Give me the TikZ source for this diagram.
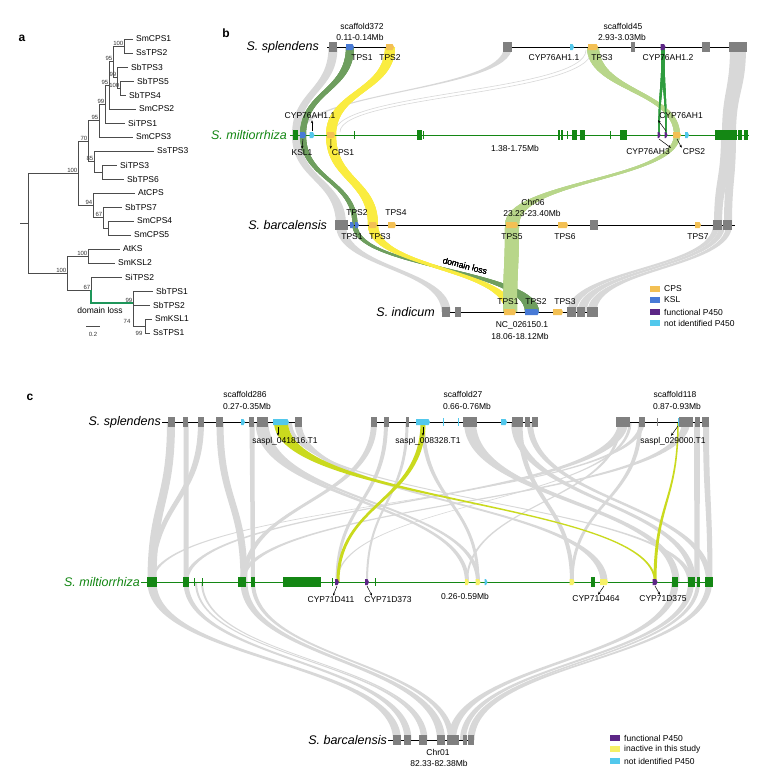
\documentclass[tikz,border=0pt]{standalone}
\usepackage{fontspec}
\setmainfont{Liberation Sans}
\usetikzlibrary{arrows.meta}
\definecolor{gbox}{RGB}{128,128,128}
\definecolor{gband}{RGB}{216,216,216}
\definecolor{smgreen}{RGB}{20,135,20}
\definecolor{cps}{RGB}{243,192,84}
\definecolor{ksl}{RGB}{72,122,214}
\definecolor{fp}{RGB}{92,38,134}
\definecolor{nip}{RGB}{82,200,236}
\definecolor{inact}{RGB}{246,240,102}
\definecolor{yband}{RGB}{250,236,64}
\definecolor{dgband}{RGB}{110,158,94}
\definecolor{lgband}{RGB}{184,214,138}
\definecolor{vband}{RGB}{46,156,62}
\definecolor{ygband}{RGB}{202,218,30}
\definecolor{dlgreen}{RGB}{30,150,90}
% ribbon between two rows: colour, x1, y1, w1, x2, y2, w2
\newcommand{\band}[7]{\fill[#1] ({#2-#4/2},#3) .. controls ({#2-#4/2},{(#3+#6)/2}) and ({#5-#7/2},{(#3+#6)/2}) .. ({#5-#7/2},#6) -- ({#5+#7/2},#6) .. controls ({#5+#7/2},{(#3+#6)/2}) and ({#2+#4/2},{(#3+#6)/2}) .. ({#2+#4/2},#3) -- cycle;}
\newcommand{\blocks}[3]{\foreach \a/\b in {#2}{\fill[#1] (\a,{#3-5}) rectangle (\b,{#3+5});}}
\newcommand{\ticks}[3]{\foreach \a in {#2}{\draw[#1,line width=.6pt] (\a,{#3-4}) -- (\a,{#3+4});}}
\newcommand{\gene}[4]{\fill[#1] ({#2-#3},{#4-3}) -- ({#2+#3-1.5},{#4-3}) -- ({#2+#3},#4) -- ({#2+#3-1.5},{#4+3}) -- ({#2-#3},{#4+3}) -- cycle;}

\begin{document}
\begin{tikzpicture}[x=1pt,y=-1pt,
  sp/.style={font=\itshape\fontsize{12.5}{14}\selectfont,inner sep=1pt},
  lab/.style={font=\fontsize{8.5}{10}\selectfont,inner sep=1pt},
  leaf/.style={font=\fontsize{8.5}{10}\selectfont,inner sep=1pt},
  boot/.style={font=\fontsize{6}{7}\selectfont,inner sep=.5pt,text=black!80},
  tree/.style={line width=.6pt,black!70},
  ptr/.style={-{Stealth[length=3pt,width=2.4pt]},line width=.5pt},
  letter/.style={font=\bfseries\fontsize{12}{14}\selectfont}]
\useasboundingbox (0,0) rectangle (757,780);
\fill[white] (0,0) rectangle (757,780);

\node[letter] (pa) at (22,38) {a};
\node[letter] (pb) at (226,33) {b};
\node[letter] (pc) at (30,397) {c};

% ---- a: tree
\foreach \n/\x/\y in {t0/133/39,t1/133/53,t2/128/67,t3/134/81,t4/126/95,t5/136/109,t6/125/123,
  t7/133/137,t8/154/151,t9/117/165,t10/124/179,t11/135/193,t12/122/207,t13/134/221,t14/131/235,
  t15/120/249,t16/115/263,t17/122/277,t18/153/291,t19/150/305,t20/152/319,t21/150/333,
  n10/102/172,n14/108/228,root/28/223}
  \coordinate (\n) at (\x,\y);
\foreach \n/\x/\y/\b in {n1/124/46/100,n3/120/88/100,n2/117/77.5/99,n4/113/61.75/95,n5/109/85.4/95,
  n6/105/104.2/99,n7/99/120.6/95,n9/94/161.5/85,n8/88/141/70,n13/103/217.5/67,n12/93/205/94,
  n11/78/173/100,n15/88/256/100,n17/133/303/99,n16/91/290/67,n19/67/273/100}
  {\coordinate (\n) at (\x,\y); \node[boot,anchor=south east] (b\n) at (\n) {\b};}
\coordinate (n18) at (145,326);
\node[boot] (bn18a) at (127,321) {74};
\node[boot] (bn18b) at (139,333) {99};
\foreach \p/\c in {n1/t0,n1/t1,n3/t3,n3/t4,n2/t2,n2/n3,n4/n1,n4/n2,n5/n4,n5/t5,n6/n5,n6/t6,
  n7/n6,n7/t7,n10/t9,n10/t10,n9/t8,n9/n10,n8/n7,n8/n9,n14/t13,n14/t14,n13/t12,n13/n14,
  n12/t11,n12/n13,n11/n8,n11/n12,n15/t15,n15/t16,n18/t20,n18/t21,n17/t18,n17/t19,n17/n18,
  n16/t17,n19/n15,n19/n16,root/n11,root/n19}
  \draw[tree] (\p) |- (\c);
\draw[tree] (20,223) -- (root);
\draw[dlgreen,line width=1.3pt] (n16) |- (n17);
\foreach \t/\s in {t0/SmCPS1,t1/SsTPS2,t2/SbTPS3,t3/SbTPS5,t4/SbTPS4,t5/SmCPS2,t6/SiTPS1,
  t7/SmCPS3,t8/SsTPS3,t9/SiTPS3,t10/SbTPS6,t11/AtCPS,t12/SbTPS7,t13/SmCPS4,t14/SmCPS5,
  t15/AtKS,t16/SmKSL2,t17/SiTPS2,t18/SbTPS1,t19/SbTPS2,t20/SmKSL1,t21/SsTPS1}
  \node[leaf,anchor=west] (l\t) at ([xshift=2pt]\t) {\s};
\node[leaf] (dloss) at (100,310) {domain loss};
\draw[tree] (86,326) -- (100,326);
\node[boot] (scale) at (93,334) {0.2};

% ---- b: ribbons
\band{gband}{508}{47}{8}{300}{135}{3}
\draw[gband,line width=.6pt] (586,50) .. controls (586,92) and (335,92) .. (335,132);
\draw[gband,line width=.6pt] (592,50) .. controls (592,95) and (340,95) .. (340,132);
\band{gband}{333}{47}{9}{296}{135}{8}
\band{gband}{296}{135}{8}{341}{225}{10}
\band{gband}{341}{225}{10}{446}{312}{9}
\band{gband}{738}{47}{16}{729}{135}{14}
\band{gband}{727}{135}{12}{718}{225}{8}
\band{gband}{732}{135}{8}{728}{225}{8}
\foreach \a/\b in {716/572,722/582,729/592}
  \band{gband}{\a}{225}{6}{\b}{312}{9}
\band{dgband}{350}{47}{8}{303}{135}{6}
\band{dgband}{303}{135}{6}{355}{225}{5}
\band{dgband}{355}{225}{5}{532}{312}{14}
\band{yband}{390}{47}{10}{331}{135}{10}
\band{yband}{331}{135}{10}{373}{225}{10}
\band{yband}{373}{225}{10}{510}{312}{10}
\band{lgband}{593}{47}{12}{677}{135}{6}
\band{lgband}{677}{135}{6}{512}{225}{14}
\band{lgband}{512}{225}{14}{510}{312}{14}
\band{vband}{663}{47}{3}{659}{135}{1.5}
\band{vband}{663}{47}{3}{666}{135}{1.5}
\node[lab,rotate=-15] (bdloss) at (465,266) {domain loss};

% ---- b: S. splendens
\node[sp,anchor=east] (bss) at (320,47) {S. splendens};
\draw[line width=.8pt] (327,47) -- (393,47);
\draw[line width=.8pt] (503,47) -- (747,47);
\blocks{gbox}{329/337,503/512,631/635,702/710,729/747}{47}
\gene{ksl}{350}{4}{47}
\gene{cps}{390}{4}{47}
\gene{nip}{572}{2}{47}
\gene{cps}{593}{5}{47}
\gene{fp}{663}{2.5}{47}
\node[lab] (bss1) at (362,26) {scaffold372};
\node[lab] (bss2) at (360,37) {0.11-0.14Mb};
\node[lab] (bss3) at (623,26) {scaffold45};
\node[lab] (bss4) at (622,37) {2.93-3.03Mb};
\node[lab] (bsg1) at (362,58) {TPS1};
\node[lab] (bsg2) at (390,58) {TPS2};
\node[lab] (bsg3) at (554,58) {CYP76AH1.1};
\node[lab] (bsg4) at (602,58) {TPS3};
\node[lab] (bsg5) at (668,58) {CYP76AH1.2};

% ---- b: S. miltiorrhiza
\node[sp,anchor=east,text=smgreen] (bsm) at (288,135) {S. miltiorrhiza};
\draw[smgreen,line width=.8pt] (290,135) -- (749,135);
\blocks{smgreen}{293/298,417/422,558/560,561/563,572/577,580/585,620/627,715/737,738/742,744/748}{135}
\ticks{smgreen}{354,423,567,610}{135}
\gene{ksl}{303}{3}{135}
\gene{nip}{312}{2.5}{135}
\gene{cps}{331}{4}{135}
\gene{fp}{659}{1.5}{135}
\gene{fp}{666}{1.5}{135}
\gene{cps}{677}{4}{135}
\gene{nip}{687}{2}{135}
\coordinate (mksl1) at (303,139);
\coordinate (mcyp11) at (312,131);
\coordinate (mcps1) at (331,139);
\coordinate (mcyp3) at (659,139);
\coordinate (mcyp1) at (666,131);
\coordinate (mcps2) at (677,139);
\node[lab] (bmg1) at (310,116) {CYP76AH1.1};
\node[lab] (bmg2) at (302,153) {KSL1};
\node[lab] (bmg3) at (343,153) {CPS1};
\node[lab] (bmg4) at (681,116) {CYP76AH1};
\node[lab] (bmg5) at (648,152) {CYP76AH3};
\node[lab] (bmg6) at (694,152) {CPS2};
\node[lab] (bmr) at (515,148) {1.38-1.75Mb};
\draw[ptr] (mcyp11) -- (bmg1.south -| mcyp11);
\draw[ptr] (mksl1) -- (bmg2.north);
\draw[ptr] (mcps1) -- (bmg3.north west);
\draw[ptr] (mcyp1) -- (bmg4.south west);
\draw[ptr] (mcyp3) -- (bmg5.north east);
\draw[ptr] (mcps2) -- (bmg6.north west);

% ---- b: S. barcalensis
\node[sp,anchor=east] (bsb) at (328,225) {S. barcalensis};
\draw[line width=.8pt] (335,225) -- (735,225);
\blocks{gbox}{335/348,590/598,713/722,723/732}{225}
\gene{ksl}{352}{2}{225}
\gene{ksl}{357}{2}{225}
\gene{cps}{373}{4}{225}
\gene{cps}{392}{4}{225}
\gene{cps}{512}{6}{225}
\gene{cps}{563}{5}{225}
\gene{cps}{698}{3}{225}
\node[lab] (bbg2) at (357,213) {TPS2};
\node[lab] (bbg4) at (396,213) {TPS4};
\node[lab] (bbg1) at (352,237) {TPS1};
\node[lab] (bbg3) at (380,237) {TPS3};
\node[lab] (bbg5) at (512,237) {TPS5};
\node[lab] (bbg6) at (565,237) {TPS6};
\node[lab] (bbg7) at (698,237) {TPS7};
\node[lab] (bbr1) at (533,202) {Chr06};
\node[lab] (bbr2) at (532,213) {23.23-23.40Mb};

% ---- b: S. indicum
\node[sp,anchor=east] (bsi) at (436,312) {S. indicum};
\draw[line width=.8pt] (442,312) -- (598,312);
\blocks{gbox}{442/450,455/461,567/576,577/585,587/598}{312}
\gene{cps}{510}{6}{312}
\gene{ksl}{532}{7}{312}
\gene{cps}{558}{5}{312}
\node[lab] (big1) at (508,302) {TPS1};
\node[lab] (big2) at (536,302) {TPS2};
\node[lab] (big3) at (565,302) {TPS3};
\node[lab] (bir1) at (522,325) {NC\_026150.1};
\node[lab] (bir2) at (520,336) {18.06-18.12Mb};

% ---- b: legend
\foreach \c/\t/\y in {cps/CPS/289,ksl/KSL/300,fp/functional P450/312,nip/not identified P450/323}
  {\fill[\c] (650,{\y-3}) rectangle (660,{\y+3});
   \node[lab,anchor=west] (bleg\c) at (663,\y) {\t};}

% ---- c: ribbons
\foreach \a/\wa/\b/\wb in {171/8/152/9,186/5/186/5,201/6/152/5,220/7/244/7,252/5/253/4,
  260/9/467/4,265/7/478/4,298/7/604/7,290/4/690/5,374/6/244/5,386/4/337/3,407/3/367/2,
  423/4/478/3,470/12/676/7,515/8/693/6,530/6/709/6,520/5/572/4,623/10/186/4,642/5/152/3,
  686/8/242/5,697/6/697/5,706/6/710/5,620/3/467/2,630/3/337/1.5,640/4/572/3}
  \band{gband}{\a}{422}{\wa}{\b}{582}{\wb};
\foreach \a/\wa/\b/\wb in {152/9/397/8,186/5/408/7,196/2/423/4,202/2/426/3,244/7/441/8,
  253/4/451/6,675/7/452/8,691/6/463/6,698/4/470/5,709/6/472/5}
  \band{gband}{\a}{582}{\wa}{\b}{740}{\wb};
\band{ygband}{281}{422}{14}{655}{582}{2}
\band{ygband}{423}{422}{5}{338}{582}{3}
\band{ygband}{678}{422}{1.5}{655}{582}{3}

% ---- c: S. splendens
\node[sp,anchor=east] (css) at (162,422) {S. splendens};
\draw[line width=.8pt] (162,422) -- (302,422);
\draw[line width=.8pt] (371,422) -- (538,422);
\draw[line width=.8pt] (616,422) -- (709,422);
\blocks{gbox}{168/175,183/188,198/204,216/223,249/254,257/268,295/302,371/377,384/389,406/409,463/477,512/523,525/530,532/538,616/630,639/645,679/693,695/700,702/709}{422}
\ticks{gbox}{657}{422}
\ticks{nip}{443,458,678}{422}
\gene{nip}{243}{2}{422}
\gene{nip}{281}{8}{422}
\gene{nip}{423}{7}{422}
\gene{nip}{504}{3}{422}
\node[lab] (csr1) at (245,394) {scaffold286};
\node[lab] (csr2) at (247,406) {0.27-0.35Mb};
\node[lab] (csr3) at (463,394) {scaffold27};
\node[lab] (csr4) at (467,406) {0.66-0.76Mb};
\node[lab] (csr5) at (675,394) {scaffold118};
\node[lab] (csr6) at (677,406) {0.87-0.93Mb};
\coordinate (cs1) at (278,427);
\coordinate (cs2) at (423,427);
\coordinate (cs3) at (678,426);
\node[lab] (csg1) at (285,441) {saspl\_041816.T1};
\node[lab] (csg2) at (428,441) {saspl\_008328.T1};
\node[lab] (csg3) at (673,441) {saspl\_029000.T1};
\draw[ptr] (cs1) -- (csg1.north -| cs1);
\draw[ptr] (cs2) -- (csg2.north -| cs2);
\draw[ptr] (cs3) -- ([xshift=-2pt]csg3.north);

% ---- c: S. miltiorrhiza
\node[sp,anchor=east,text=smgreen] (csm) at (141,582) {S. miltiorrhiza};
\draw[smgreen,line width=.8pt] (141,582) -- (713,582);
\blocks{smgreen}{147/157,183/189,238/246,251/255,283/321,591/595,672/678,688/695,697/700,705/713}{582}
\ticks{smgreen}{194,202,332,375}{582}
\gene{fp}{337}{2}{582}
\gene{fp}{367}{2}{582}
\gene{inact}{467}{2}{582}
\gene{inact}{478}{2.5}{582}
\gene{nip}{486}{1.5}{582}
\gene{inact}{572}{2.5}{582}
\gene{inact}{604}{4}{582}
\gene{fp}{655}{2.5}{582}
\coordinate (cm1) at (337,586);
\coordinate (cm2) at (367,586);
\coordinate (cm3) at (604,586);
\coordinate (cm4) at (655,586);
\node[lab] (cmg1) at (331,600) {CYP71D411};
\node[lab] (cmg2) at (388,600) {CYP71D373};
\node[lab] (cmg3) at (596,599) {CYP71D464};
\node[lab] (cmg4) at (663,599) {CYP71D375};
\node[lab] (cmr) at (465,596) {0.26-0.59Mb};
\draw[ptr] (cm1) -- ([xshift=2pt]cmg1.north);
\draw[ptr] (cm2) -- ([xshift=-16pt]cmg2.north);
\draw[ptr] (cm3) -- ([xshift=2pt]cmg3.north);
\draw[ptr] (cm4) -- ([xshift=-3pt]cmg4.north);

% ---- c: S. barcalensis
\node[sp,anchor=east] (csb) at (388,740) {S. barcalensis};
\draw[line width=.8pt] (388,740) -- (474,740);
\blocks{gbox}{393/401,404/411,419/427,437/445,447/459,463/467,468/474}{740}
\node[lab] (cbr1) at (438,752) {Chr01};
\node[lab] (cbr2) at (439,763) {82.33-82.38Mb};

% ---- c: legend
\foreach \c/\t/\y in {fp/functional P450/738,inact/inactive in this study/749,nip/not identified P450/761}
  {\fill[\c] (610,{\y-3}) rectangle (620,{\y+3});
   \node[lab,anchor=west] (cleg\c) at (623,\y) {\t};}
\end{tikzpicture}
\end{document}
